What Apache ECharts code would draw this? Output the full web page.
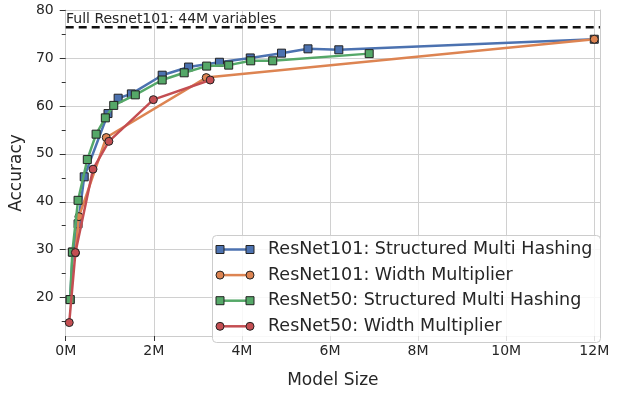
<!DOCTYPE html>
<html>
<head>
<meta charset="utf-8">
<script src="https://cdn.jsdelivr.net/npm/echarts@6/dist/echarts.min.js"></script>
<style>
html,body{margin:0;padding:0;background:#fff;}
#chart{width:618px;height:394px;}
</style>
</head>
<body>
<div id="chart"></div>
<script>
// Model sizes in millions of variables, accuracies in %
const r101SmhSize = [0.10, 0.16, 0.28, 0.42, 0.96, 1.19, 1.49, 2.19, 2.79, 3.49, 4.19, 4.90, 5.50, 6.20, 12.0];
const r101SmhAcc  = [19.6, 29.5, 35.4, 45.2, 58.4, 61.6, 62.5, 66.4, 68.1, 69.1, 70.0, 71.0, 71.9, 71.7, 73.9];
const r101WmSize = [0.22, 0.30, 0.92, 3.19, 12.0];
const r101WmAcc  = [29.3, 36.9, 53.4, 65.9, 73.9];
const r50SmhSize = [0.10, 0.15, 0.28, 0.49, 0.69, 0.90, 1.09, 1.58, 2.19, 2.69, 3.20, 3.70, 4.20, 4.70, 6.89];
const r50SmhAcc  = [19.6, 29.5, 40.3, 48.8, 54.1, 57.5, 60.1, 62.3, 65.4, 66.9, 68.3, 68.5, 69.4, 69.4, 70.9];
const r50WmSize = [0.08, 0.22, 0.62, 0.98, 1.99, 3.28];
const r50WmAcc  = [14.8, 29.4, 46.8, 52.6, 61.3, 65.4];
const seriesNames = [
  'ResNet101: Structured Multi Hashing',
  'ResNet101: Width Multiplier',
  'ResNet50: Structured Multi Hashing',
  'ResNet50: Width Multiplier'
];
const fullModelAcc = 76.4;
const fullModelLabel = 'Full Resnet101: 44M variables';
const xTicks = [0, 2, 4, 6, 8, 10, 12];
const yTicks = [20, 30, 40, 50, 60, 70, 80];
const yMinorTicks = [15, 25, 35, 45, 55, 65, 75];
const xMin = 0, xMax = 12.13, yMin = 12, yMax = 80;

const colors = ['#4C72B0', '#DD8452', '#55A868', '#C44E52'];
const symbols = ['rect', 'circle', 'rect', 'circle'];
const sizes = [r101SmhSize, r101WmSize, r50SmhSize, r50WmSize];
const accs = [r101SmhAcc, r101WmAcc, r50SmhAcc, r50WmAcc];
const FONT = 'DejaVu Sans';

const zip = (a, b) => a.map((v, i) => [v, b[i]]);

const series = seriesNames.map((name, i) => ({
  name: name,
  type: 'line',
  data: zip(sizes[i], accs[i]),
  symbol: symbols[i],
  symbolSize: 8,
  showAllSymbol: true,
  lineStyle: { color: colors[i], width: 2.5 },
  itemStyle: { color: colors[i], borderColor: '#222', borderWidth: 1 },
  z: 3 + i
}));
series.push({
  name: 'full',
  type: 'line',
  data: [[xMin, fullModelAcc], [xMax, fullModelAcc]],
  symbol: 'none',
  lineStyle: { color: '#111', width: 2.5, type: [8, 5] },
  z: 2
});

// legend (drawn as graphic to show markers at both ends of the handle)
const legendGraphic = [{
  type: 'rect', left: 212, top: 235, z: 100,
  shape: { width: 388, height: 107, r: 4 },
  style: { fill: 'rgba(255,255,255,0.85)', stroke: '#cccccc', lineWidth: 1 }
}];
seriesNames.forEach((name, i) => {
  const y = 249.5 + i * 25.6;
  legendGraphic.push({
    type: 'line', z: 101,
    shape: { x1: 220, y1: y, x2: 250, y2: y },
    style: { stroke: colors[i], lineWidth: 2.5 }
  });
  [220, 250].forEach(x => {
    if (symbols[i] === 'rect') {
      legendGraphic.push({ type: 'rect', z: 102, shape: { x: x - 4, y: y - 4, width: 8, height: 8 },
        style: { fill: colors[i], stroke: '#222', lineWidth: 1 } });
    } else {
      legendGraphic.push({ type: 'circle', z: 102, shape: { cx: x, cy: y, r: 4 },
        style: { fill: colors[i], stroke: '#222', lineWidth: 1 } });
    }
  });
  legendGraphic.push({
    type: 'text', z: 102, left: 268, top: y - 9,
    style: { text: name, fill: '#262626', font: '17.5px "' + FONT + '"' }
  });
});
legendGraphic.push({
  type: 'text', z: 50, left: 66, top: 12,
  style: { text: fullModelLabel, fill: '#262626', font: '14px "' + FONT + '"' }
});

const chart = echarts.init(document.getElementById('chart'), null, { renderer: 'canvas' });
chart.setOption({
  animation: false,
  backgroundColor: '#ffffff',
  textStyle: { fontFamily: FONT },
  grid: { left: 64, right: 18, top: 10, bottom: 52, containLabel: false },
  xAxis: {
    type: 'value', min: xMin, max: xMax,
    name: 'Model Size', nameLocation: 'middle', nameGap: 36,
    nameTextStyle: { fontSize: 17, color: '#262626', fontFamily: FONT },
    axisLine: { show: true, lineStyle: { color: '#cccccc', width: 1 } },
    axisTick: { show: true, customValues: xTicks, length: 5, lineStyle: { color: '#333' } },
    axisLabel: { customValues: xTicks, formatter: v => v + 'M', fontSize: 14, color: '#262626', margin: 8, fontFamily: FONT },
    splitLine: { show: true, lineStyle: { color: '#d0d0d0', width: 1 } }
  },
  yAxis: [{
    type: 'value', min: yMin, max: yMax, position: 'left',
    name: 'Accuracy', nameLocation: 'middle', nameGap: 30, nameRotate: 90,
    nameTextStyle: { fontSize: 17, color: '#262626', fontFamily: FONT },
    axisLine: { show: true, lineStyle: { color: '#cccccc', width: 1 } },
    axisTick: { show: true, customValues: yTicks, length: 6, lineStyle: { color: '#333' } },
    axisLabel: { customValues: yTicks, fontSize: 14, color: '#262626', margin: 12, fontFamily: FONT },
    splitLine: { show: true, lineStyle: { color: '#d0d0d0', width: 1 } }
  }, {
    type: 'value', min: yMin, max: yMax, position: 'left',
    axisLine: { show: false },
    axisTick: { show: true, customValues: yMinorTicks, length: 4, lineStyle: { color: '#333' } },
    axisLabel: { show: false },
    splitLine: { show: false }
  }, {
    type: 'value', min: yMin, max: yMax, position: 'right',
    axisLine: { show: true, lineStyle: { color: '#cccccc', width: 1 } },
    axisTick: { show: false },
    axisLabel: { show: false },
    splitLine: { show: false }
  }],
  series: series,
  graphic: legendGraphic
});
</script>
</body>
</html>
